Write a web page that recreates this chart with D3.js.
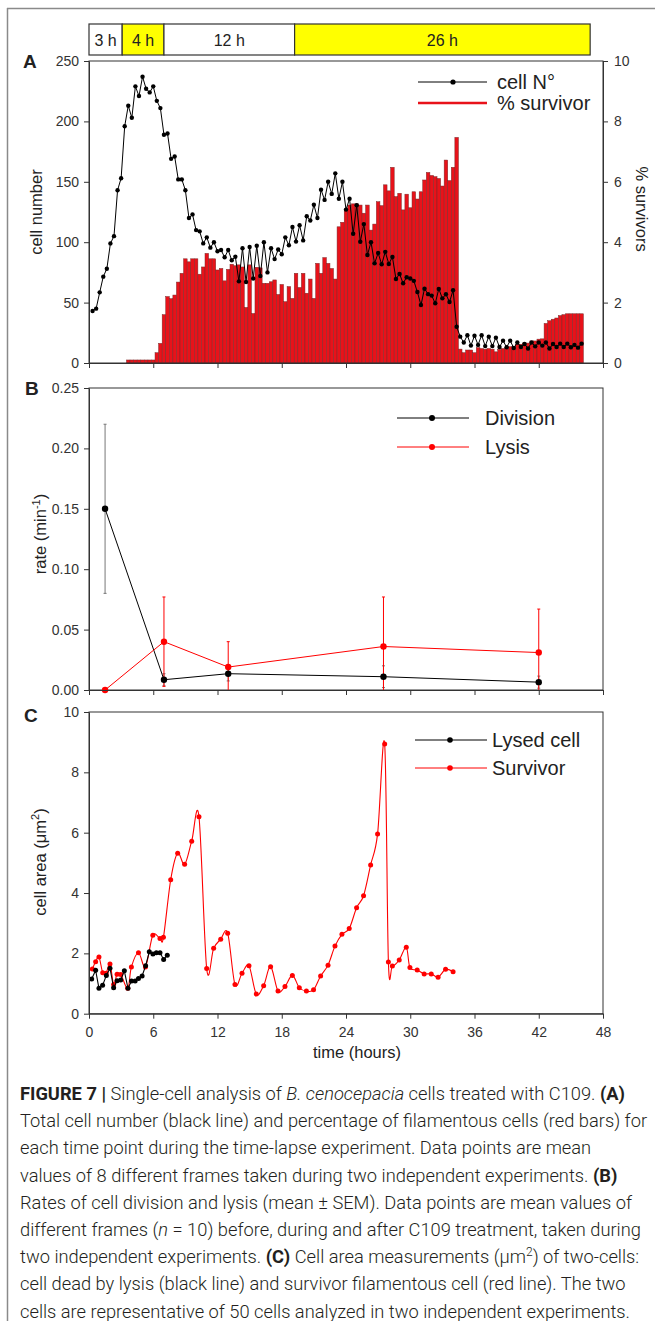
<!DOCTYPE html>
<html><head><meta charset="utf-8">
<title>Figure 7</title>
<script src="https://cdn.jsdelivr.net/npm/d3@7"></script>
<style>
  body { margin: 0; background: #fff; }
  svg { display: block; }
  text { font-family: "Liberation Sans", Arial, sans-serif; fill: #222; }
  .axis path, .axis line { stroke: #333; stroke-width: 1; }
  .axis text { font-size: 14px; fill: #333; font-family: "Liberation Sans", Arial, sans-serif; }
  .frame { fill: none; stroke: #333; stroke-width: 1; }
  .lbl { font-size: 16.5px; }
  .leg { font-size: 20px; }
  .panel { font-size: 19px; font-weight: bold; }
  .cap text { font-family: Roboto, "Open Sans", sans-serif; font-weight: 300; font-size: 18.3px; fill: #231f20; }
</style>
</head>
<body>
<svg id="fig" width="655" height="1321"></svg>
<script>
// ---- data ----
// treatment timeline (hours)
var phaseLabels = ["3 h", "4 h", "12 h", "26 h"];
var phaseStart = [0, 3.1, 7.0, 19.2];
var phaseEnd = [3.1, 7.0, 19.2, 46.8];
var phaseFill = ["#ffffff", "#ffff00", "#ffffff", "#ffff00"];

// panel A: one frame every 20 min, starting at 20 min
var cellCount = [43,45,58.5,71.5,78,99,105,143,153,196,213,203,229,221,237,227,224,229,217,211,
  189,190,169,171,152,152,143,120,123,110,109,99,104,95.5,100,92.5,93.5,87.5,93.5,85,
  88,67.6,95,67,96,70,97,72,100,75,95,86,94,90,104,97.5,112.6,100.5,114,101.5,
  121.5,118,131,120,143.5,135,150,140,157,136,150,127,136,107,130.6,100.4,115,89.4,100,82.5,
  91,81.7,92,82,87.8,69.5,73.7,66,71,70,68,58.8,48,61.5,57,55.8,49.4,61.3,53.5,56.9,
  50.5,60.2,30,21.8,17,23,14.4,22.6,15,23,14,21.8,14,21,13.2,18.5,13,18.5,12.4,17,
  13.2,15.7,12,17,13.8,17,14.4,17,12,15.7,13.2,16,13.2,16,13,15,12.7,16];
var survivorPct = [0,0,0,0,0,0,0,0,0,0,0.1,0.1,0.1,0.1,0.1,0.1,0.1,0.1,0.34,0.65,
  1.6,2.2,2.13,2.25,2.68,2.97,3.45,3.35,3.45,3.45,2.94,3.18,3.63,3.45,3.45,3.08,3.13,2.72,3.1,3.27,
  3.22,3.25,3.18,1.84,3.25,1.64,3.17,3.15,2.64,2.64,2.69,2.75,2.27,2.6,2.03,2.53,2.14,2.97,2.5,2.97,
  2.31,2.78,2.14,3.3,2.97,3.49,3.3,3.13,2.78,4.51,4.66,5.1,5.23,5.27,5.27,5.23,4.96,5.23,4.4,4.6,
  5.34,5.21,5.9,5.7,6.48,5.51,5.62,5.07,5.59,5.14,5.67,5.43,5.67,6.06,6.31,6.21,6.17,6.11,5.86,6.72,
  6.04,6.48,7.47,0.46,0.34,0.43,0.43,0.34,0.51,0.48,0.46,0.48,0.46,0.37,0.45,0.48,0.51,0.54,0.54,0.62,
  0.62,0.66,0.66,0.73,0.73,0.79,0.8,1.31,1.4,1.45,1.49,1.57,1.6,1.63,1.63,1.63,1.63,1.63];

// panel B: rates (min-1), mean and SEM
var rateTime = [1.5, 7, 13, 27.5, 42];
var divisionRate = [0.15, 0.0085, 0.0135, 0.011, 0.0065];
var divisionSem = [0.07, 0.005, 0.006, 0.009, 0.005];
var lysisRate = [0, 0.04, 0.019, 0.036, 0.031];
var lysisSem = [0, 0.037, 0.021, 0.041, 0.036];

// panel C: cell area (um2)
var lysedTime = [0.25,0.62,0.93,1.27,1.62,1.96,2.3,2.62,2.96,3.3,3.64,3.97,4.31,4.62,4.96,5.29,5.63,5.97,6.29,6.63,6.97,7.31];
var lysedArea = [1.15,1.44,0.84,0.94,1.27,1.51,0.86,1.09,1.12,1.42,0.84,1.08,1.08,1.17,1.25,1.59,2.05,1.98,2.02,2.02,1.8,1.94];
var survTime = [0.31,0.62,0.93,1.28,1.6,1.96,2.3,2.62,2.97,3.62,3.96,4.62,5.27,5.96,6.63,6.95,7.63,8.28,8.93,9.59,
  10.27,10.99,11.64,12.3,12.95,13.63,14.29,14.94,15.62,16.31,16.96,17.65,18.3,18.99,19.64,20.3,20.97,21.63,22.32,22.97,
  23.62,24.3,24.99,25.64,26.3,26.95,27.61,27.96,28.33,28.97,29.63,29.97,30.65,31.3,31.96,32.6,33.3,34.0];
var survArea = [1.48,1.72,1.88,1.36,1.34,1.65,0.97,1.31,1.3,0.84,1.55,2.02,1.55,2.6,2.49,2.53,4.44,5.32,4.95,5.72,
  6.53,1.5,2.17,2.47,2.67,0.97,1.34,1.59,0.65,0.93,1.56,0.75,0.9,1.27,0.86,0.75,0.79,1.25,1.61,2.24,
  2.63,2.82,3.51,3.91,4.93,5.96,8.94,1.71,1.58,1.78,2.2,1.53,1.45,1.32,1.32,1.21,1.47,1.39];

var hourTicks = [0, 6, 12, 18, 24, 30, 36, 42, 48];

var captionLines = [
  [["FIGURE 7 |", "b"], [" Single-cell analysis of ", ""], ["B. cenocepacia", "i"], [" cells treated with C109. ", ""], ["(A)", "b"]],
  [["Total cell number (black line) and percentage of filamentous cells (red bars) for", ""]],
  [["each time point during the time-lapse experiment. Data points are mean", ""]],
  [["values of 8 different frames taken during two independent experiments. ", ""], ["(B)", "b"]],
  [["Rates of cell division and lysis (mean \u00b1 SEM). Data points are mean values of", ""]],
  [["different frames (", ""], ["n", "i"], [" = 10) before, during and after C109 treatment, taken during", ""]],
  [["two independent experiments. ", ""], ["(C)", "b"], [" Cell area measurements (\u03bcm", ""], ["2", "sup"], [") of two-cells:", ""]],
  [["cell dead by lysis (black line) and survivor filamentous cell (red line). The two", ""]],
  [["cells are representative of 50 cells analyzed in two independent experiments.", ""]]
];

// ---- layout ----
var svg = d3.select("#fig");
var RED = "#ff0000", BAR = "#e8121a";

var x = d3.scaleLinear().domain([0, 48]).range([89, 603]);
var yA = d3.scaleLinear().domain([0, 250]).range([363, 61]);
var yA2 = d3.scaleLinear().domain([0, 10]).range([363, 61]);
var yB = d3.scaleLinear().domain([0, 0.25]).range([690, 388]);
var yC = d3.scaleLinear().domain([0, 10]).range([1013.7, 712]);

// outer figure border
svg.append("line").attr("x1", 7.5).attr("x2", 7.5).attr("y1", 8).attr("y2", 1321)
  .attr("stroke", "#8a8a8a").attr("stroke-width", 1.5);
svg.append("line").attr("x1", 7).attr("x2", 655).attr("y1", 8.5).attr("y2", 8.5)
  .attr("stroke", "#8a8a8a").attr("stroke-width", 1.5);

// timeline bar
var phases = phaseLabels.map(function(l, i){ return {label: l, s: phaseStart[i], e: phaseEnd[i], fill: phaseFill[i]}; });
var tl = svg.append("g");
tl.selectAll("rect").data(phases).enter().append("rect")
  .attr("x", function(d){ return x(d.s); })
  .attr("width", function(d){ return x(d.e) - x(d.s); })
  .attr("y", 24).attr("height", 31)
  .attr("fill", function(d){ return d.fill; })
  .attr("stroke", "#333").attr("stroke-width", 1.2);
tl.selectAll("text").data(phases).enter().append("text")
  .attr("x", function(d){ return (x(d.s) + x(d.e)) / 2; })
  .attr("y", 45.5)
  .attr("text-anchor", "middle")
  .style("font-size", "16px")
  .text(function(d){ return d.label; });

function frameRect(y0, y1) {
  svg.append("rect").attr("class", "frame")
    .attr("x", x(0)).attr("y", y1).attr("width", x(48) - x(0)).attr("height", y0 - y1);
}
function xAxis(yPos, labels) {
  var ax = d3.axisBottom(x).tickValues(hourTicks).tickSize(5).tickSizeOuter(0).tickPadding(8);
  if (!labels) ax.tickFormat("");
  svg.append("g").attr("class", "axis").attr("transform", "translate(0," + yPos + ")").call(ax);
}
function yAxisLeft(scale, vals, fmt) {
  svg.append("g").attr("class", "axis").attr("transform", "translate(" + x(0) + ",0)")
    .call(d3.axisLeft(scale).tickValues(vals).tickSize(5).tickSizeOuter(0).tickPadding(5).tickFormat(fmt));
}

// ---------- Panel A ----------
var frames = cellCount.map(function(v, i){ return {t: (i + 1) / 3, n: v, p: survivorPct[i]}; });
var barW = x(1 / 3) - x(0);

svg.append("g").selectAll("rect").data(frames.filter(function(d){ return d.p > 0; })).enter().append("rect")
  .attr("x", function(d){ return x(d.t) - barW / 2; })
  .attr("width", barW)
  .attr("y", function(d){ return yA2(d.p); })
  .attr("height", function(d){ return yA2(0) - yA2(d.p); })
  .attr("fill", BAR).attr("stroke", "#7a2a2a").attr("stroke-width", 0.5);

var lineA = d3.line().x(function(d){ return x(d.t); }).y(function(d){ return yA(d.n); });
svg.append("path").datum(frames).attr("d", lineA).attr("fill", "none").attr("stroke", "#000").attr("stroke-width", 1);
svg.append("g").selectAll("circle").data(frames).enter().append("circle")
  .attr("cx", function(d){ return x(d.t); }).attr("cy", function(d){ return yA(d.n); })
  .attr("r", 2.2).attr("fill", "#000");

frameRect(yA(0), yA(250));
yAxisLeft(yA, [0, 50, 100, 150, 200, 250], d3.format("d"));
svg.append("g").attr("class", "axis").attr("transform", "translate(" + x(48) + ",0)")
  .call(d3.axisRight(yA2).tickValues([0, 2, 4, 6, 8, 10]).tickSize(5).tickSizeOuter(0).tickPadding(6));
xAxis(yA(0), false);

svg.append("text").attr("class", "panel").attr("x", 23).attr("y", 68).text("A");
svg.append("text").attr("class", "lbl").attr("transform", "translate(41.5,212) rotate(-90)")
  .attr("text-anchor", "middle").text("cell number");
svg.append("text").attr("class", "lbl").attr("transform", "translate(636,209) rotate(90)")
  .attr("text-anchor", "middle").text("% survivors");

// legend A
svg.append("line").attr("x1", 418).attr("x2", 487).attr("y1", 82).attr("y2", 82).attr("stroke", "#000");
svg.append("circle").attr("cx", 453).attr("cy", 82).attr("r", 2.6).attr("fill", "#000");
svg.append("text").attr("class", "leg").attr("x", 497).attr("y", 89).text("cell N\u00b0");
svg.append("line").attr("x1", 418).attr("x2", 487).attr("y1", 103).attr("y2", 103).attr("stroke", BAR).attr("stroke-width", 2.5);
svg.append("text").attr("class", "leg").attr("x", 497).attr("y", 110).text("% survivor");

// ---------- Panel B ----------
frameRect(yB(0), yB(0.25));
var rates = rateTime.map(function(t, i){
  return {t: t, d: divisionRate[i], de: divisionSem[i], l: lysisRate[i], le: lysisSem[i]};
});
var gB = svg.append("g");
function errBars(key, errKey, color) {
  var g = gB.append("g").attr("stroke", color).attr("stroke-width", 1);
  rates.forEach(function(d){
    if (!d[errKey]) return;
    var lo = Math.max(0, d[key] - d[errKey]), hi = d[key] + d[errKey];
    g.append("line").attr("x1", x(d.t)).attr("x2", x(d.t)).attr("y1", yB(lo)).attr("y2", yB(hi));
    g.append("line").attr("x1", x(d.t) - 1.5).attr("x2", x(d.t) + 1.5).attr("y1", yB(hi)).attr("y2", yB(hi));
    if (lo > 0) g.append("line").attr("x1", x(d.t) - 1.5).attr("x2", x(d.t) + 1.5).attr("y1", yB(lo)).attr("y2", yB(lo));
  });
}
errBars("d", "de", "#777");
errBars("l", "le", RED);
var lineDiv = d3.line().x(function(d){ return x(d.t); }).y(function(d){ return yB(d.d); });
var lineLys = d3.line().x(function(d){ return x(d.t); }).y(function(d){ return yB(d.l); });
gB.append("path").datum(rates).attr("d", lineDiv).attr("fill", "none").attr("stroke", "#000");
gB.append("path").datum(rates).attr("d", lineLys).attr("fill", "none").attr("stroke", RED);
gB.selectAll(".pd").data(rates).enter().append("circle")
  .attr("cx", function(d){ return x(d.t); }).attr("cy", function(d){ return yB(d.d); }).attr("r", 3.2).attr("fill", "#000");
gB.selectAll(".pl").data(rates).enter().append("circle")
  .attr("cx", function(d){ return x(d.t); }).attr("cy", function(d){ return yB(d.l); }).attr("r", 3.2).attr("fill", RED);

yAxisLeft(yB, [0, 0.05, 0.10, 0.15, 0.20, 0.25], d3.format(".2f"));
xAxis(yB(0), false);
svg.append("text").attr("class", "panel").attr("x", 25).attr("y", 395).text("B");
var rl = svg.append("text").attr("class", "lbl").attr("transform", "translate(46,534) rotate(-90)")
  .attr("text-anchor", "middle");
rl.append("tspan").text("rate (min");
rl.append("tspan").attr("dy", -6).style("font-size", "11px").text("-1");
rl.append("tspan").attr("dy", 6).text(")");

// legend B
svg.append("line").attr("x1", 397).attr("x2", 469).attr("y1", 418).attr("y2", 418).attr("stroke", "#000");
svg.append("circle").attr("cx", 432).attr("cy", 418).attr("r", 3).attr("fill", "#000");
svg.append("text").attr("class", "leg").attr("x", 485).attr("y", 425).text("Division");
svg.append("line").attr("x1", 397).attr("x2", 469).attr("y1", 447).attr("y2", 447).attr("stroke", RED);
svg.append("circle").attr("cx", 432).attr("cy", 447).attr("r", 3).attr("fill", RED);
svg.append("text").attr("class", "leg").attr("x", 485).attr("y", 454).text("Lysis");

// ---------- Panel C ----------
frameRect(yC(0), yC(10));
var lysed = lysedTime.map(function(t, i){ return {t: t, a: lysedArea[i]}; });
var surv = survTime.map(function(t, i){ return {t: t, a: survArea[i]}; });
var lineStraight = d3.line().x(function(d){ return x(d.t); }).y(function(d){ return yC(d.a); });
var lineSpline = d3.line().curve(d3.curveCatmullRom.alpha(0)).x(function(d){ return x(d.t); }).y(function(d){ return yC(d.a); });
svg.append("path").datum(surv).attr("d", lineSpline).attr("fill", "none").attr("stroke", RED).attr("stroke-width", 1.1);
svg.append("g").selectAll("circle").data(surv).enter().append("circle")
  .attr("cx", function(d){ return x(d.t); }).attr("cy", function(d){ return yC(d.a); }).attr("r", 2.5).attr("fill", RED);
svg.append("path").datum(lysed).attr("d", lineStraight).attr("fill", "none").attr("stroke", "#000").attr("stroke-width", 1.1);
svg.append("g").selectAll("circle").data(lysed).enter().append("circle")
  .attr("cx", function(d){ return x(d.t); }).attr("cy", function(d){ return yC(d.a); }).attr("r", 2.5).attr("fill", "#000");

yAxisLeft(yC, [0, 2, 4, 6, 8, 10], d3.format("d"));
xAxis(yC(0), true);
svg.append("text").attr("class", "panel").attr("x", 24).attr("y", 722).text("C");
svg.append("text").attr("class", "lbl").attr("x", 357).attr("y", 1058).attr("text-anchor", "middle").text("time (hours)");
var cl = svg.append("text").attr("class", "lbl").attr("transform", "translate(46,862) rotate(-90)")
  .attr("text-anchor", "middle");
cl.append("tspan").text("cell area (\u03bcm");
cl.append("tspan").attr("dy", -7).style("font-size", "11px").text("2");
cl.append("tspan").attr("dy", 7).text(")");

// legend C
svg.append("line").attr("x1", 415).attr("x2", 487).attr("y1", 740).attr("y2", 740).attr("stroke", "#000");
svg.append("circle").attr("cx", 450).attr("cy", 740).attr("r", 2.8).attr("fill", "#000");
svg.append("text").attr("class", "leg").attr("x", 492).attr("y", 747).text("Lysed cell");
svg.append("line").attr("x1", 415).attr("x2", 487).attr("y1", 768).attr("y2", 768).attr("stroke", RED);
svg.append("circle").attr("cx", 450).attr("cy", 768).attr("r", 2.8).attr("fill", RED);
svg.append("text").attr("class", "leg").attr("x", 492).attr("y", 775).text("Survivor");

// ---------- caption ----------
var cap = svg.append("g").attr("class", "cap");
captionLines.forEach(function(segs, i){
  var t = cap.append("text").attr("x", 20).attr("y", 1100 + i * 27.2);
  segs.forEach(function(s){
    var ts = t.append("tspan").text(s[0]);
    if (s[1] === "b") ts.style("font-weight", 700);
    if (s[1] === "i") ts.style("font-style", "italic");
    if (s[1] === "sup") ts.attr("dy", -7).style("font-size", "12px");
  });
  // restore baseline after a superscript
  t.selectAll("tspan").each(function(d, j){
    if (j > 0 && segs[j - 1][1] === "sup") d3.select(this).attr("dy", 7);
  });
});
</script>
</body></html>
